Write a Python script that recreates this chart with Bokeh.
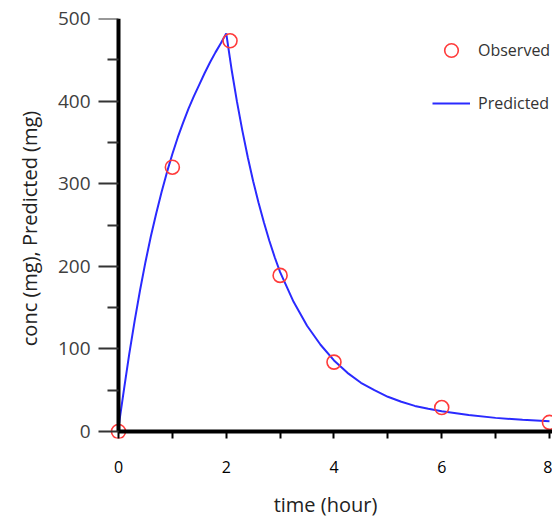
from bokeh.plotting import figure
from bokeh.models import LinearAxis, FixedTicker, Legend, LegendItem, Range1d
from bokeh.embed import file_html
from bokeh.resources import INLINE

# Observed data
obs_time = [0, 1, 2.07, 3, 4, 6, 8]
obs_conc = [0, 320, 473, 189, 84, 29, 11]

# Predicted curve
pred_time = [0, 0.1, 0.2, 0.3, 0.4, 0.5, 0.6, 0.7, 0.8, 0.9, 1.0, 1.1, 1.2, 1.3, 1.4,
             1.5, 1.6, 1.7, 1.8, 1.9, 2.0, 2.1, 2.2, 2.3, 2.4, 2.5, 2.6, 2.7, 2.8,
             2.9, 3.0, 3.25, 3.5, 3.75, 4.0, 4.25, 4.5, 4.75, 5.0, 5.25, 5.5, 5.75,
             6.0, 6.5, 7.0, 7.5, 8.0]
pred_conc = [5, 50, 94, 134, 171, 205, 236, 264, 290, 314, 336, 356, 374, 391, 406,
             420, 434, 447, 459, 470, 482, 438, 399, 364, 332, 303, 277, 253, 231,
             211, 193, 157, 128, 105, 86, 71, 59, 50, 42, 36, 31, 27.5,
             24.5, 20, 16.5, 14.2, 12.5]

x_ticks = [0, 2, 4, 6, 8]
x_minor = [1, 3, 5, 7]
y_ticks = [0, 100, 200, 300, 400, 500]
y_minor = [50, 150, 250, 350, 450]
x_title = "time (hour)"
y_title = "conc (mg), Predicted (mg)"

FONT = "Open Sans"

p = figure(width=552, height=520, output_backend="svg", toolbar_location=None,
           x_range=Range1d(-0.371, 8.056), y_range=Range1d(-8.47, 500),
           x_axis_location=None, y_axis_location=None,
           min_border_left=98, min_border_right=0, min_border_top=18, min_border_bottom=82)
p.outline_line_color = None
p.grid.visible = False
p.background_fill_color = "white"
p.border_fill_color = "white"

# axis lines and ticks, crossing at the origin
xaxis = LinearAxis(fixed_location=0, bounds=(0, 8.056),
                   ticker=FixedTicker(ticks=x_ticks, minor_ticks=x_minor))
xaxis.axis_line_width = 4
xaxis.axis_line_color = "black"
xaxis.major_tick_out = 21
xaxis.major_tick_in = 0
xaxis.minor_tick_out = 10
xaxis.minor_tick_in = 0
xaxis.major_tick_line_width = 2
xaxis.minor_tick_line_width = 2
xaxis.major_tick_line_color = "black"
xaxis.minor_tick_line_color = "black"
xaxis.major_label_text_alpha = 0
p.add_layout(xaxis, "below")

yaxis = LinearAxis(fixed_location=0, bounds=(0, 500),
                   ticker=FixedTicker(ticks=y_ticks, minor_ticks=y_minor))
yaxis.axis_line_width = 4
yaxis.axis_line_color = "black"
yaxis.major_tick_out = 23
yaxis.major_tick_in = 0
yaxis.minor_tick_out = 11
yaxis.minor_tick_in = 0
yaxis.major_tick_line_width = 2
yaxis.minor_tick_line_width = 2
yaxis.major_tick_line_color = "#333333"
yaxis.minor_tick_line_color = "#333333"
yaxis.major_label_text_alpha = 0
p.add_layout(yaxis, "left")

# tick labels and titles
xlab = LinearAxis(ticker=FixedTicker(ticks=x_ticks, minor_ticks=[]),
                  axis_label=x_title)
xlab.axis_line_color = None
xlab.major_tick_line_color = None
xlab.minor_tick_line_color = None
xlab.major_tick_out = 0
xlab.major_tick_in = 0
xlab.minor_tick_out = 0
xlab.minor_tick_in = 0
xlab.major_label_standoff = 22
xlab.major_label_text_font = FONT
xlab.major_label_text_font_size = "16px"
xlab.major_label_text_color = "black"
xlab.axis_label_standoff = 15
xlab.axis_label_text_font = FONT
xlab.axis_label_text_font_size = "20px"
xlab.axis_label_text_font_style = "normal"
xlab.axis_label_text_color = "#222222"
p.add_layout(xlab, "below")

ylab = LinearAxis(ticker=FixedTicker(ticks=y_ticks, minor_ticks=[]),
                  axis_label=y_title)
ylab.axis_line_color = None
ylab.major_tick_line_color = None
ylab.minor_tick_line_color = None
ylab.major_tick_out = 0
ylab.major_tick_in = 0
ylab.minor_tick_out = 0
ylab.minor_tick_in = 0
ylab.major_label_standoff = 8
ylab.major_label_text_font = FONT
ylab.major_label_text_font_size = "19px"
ylab.major_label_text_color = "#404040"
ylab.axis_label_standoff = 12
ylab.axis_label_text_font = FONT
ylab.axis_label_text_font_size = "20px"
ylab.axis_label_text_font_style = "normal"
ylab.axis_label_text_color = "#222222"
p.add_layout(ylab, "left")

r_line = p.line(pred_time, pred_conc, line_color="#2a2aff", line_width=2)
r_obs = p.scatter(obs_time, obs_conc, marker="circle", size=14, fill_color=None,
                  line_color="#ff3b3b", line_width=1.6)

legend = Legend(items=[LegendItem(label="Observed", renderers=[r_obs]),
                       LegendItem(label="Predicted", renderers=[r_line])],
                location=(334, 318), orientation="vertical",
                border_line_color=None, background_fill_alpha=0,
                glyph_width=38, glyph_height=34, label_height=34,
                spacing=19, padding=0, margin=0, label_standoff=8,
                label_text_font=FONT, label_text_font_size="16px",
                label_text_color="#333333")
p.add_layout(legend)

open("out.html", "w").write(file_html(p, INLINE))
